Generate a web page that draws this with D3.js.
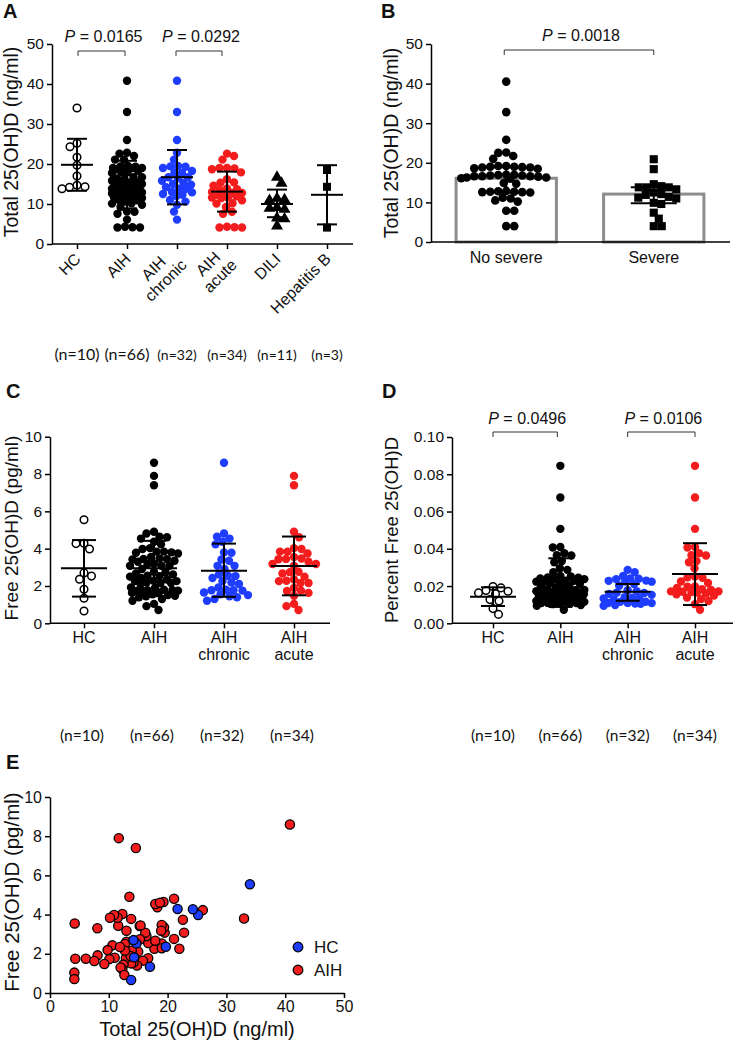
<!DOCTYPE html>
<html>
<head>
<meta charset="utf-8">
<script src="https://cdnjs.cloudflare.com/ajax/libs/d3/7.8.5/d3.min.js"></script>
<style>
  body { margin: 0; background: #fff; }
  svg text { font-family: "Liberation Sans", Arial, sans-serif; fill: #111; }
  .axis path, .axis line { stroke: #000; stroke-width: 1.5; }
  .axis text { font-size: 15.5px; fill: #111; }
  .nlab { font-family: Lato, "Open Sans", sans-serif !important; }
</style>
</head>
<body>
<svg width="735" height="1044"></svg>
<script>
// ---- data ----
// healthy controls: total (ng/ml) and free (pg/ml)
var hcTotal = [34.0, 25.2, 24.3, 21.7, 19.7, 17.0, 14.7, 14.3, 14.2, 13.8];
var hcFree = [5.55, 3.98, 4.27, 4.29, 2.36, 1.34, 2.53, 1.82, 2.70, 0.66];

// AIH patients (chronic then acute)
var aihTotal = [40.8, 33.0, 26.0, 22.8, 21.1, 19.5, 19.4, 19.3, 19.0, 18.25, 17.9, 17.75, 16.7, 16.7, 16.4, 15.8,
  15.25, 15.0, 14.8, 14.2, 13.8, 13.8, 13.0, 12.9, 12.5, 12.3, 12.0, 11.0, 10.6, 9.8, 8.1, 6.1,
  22.6, 22.0, 21.1, 19.0, 19.0, 18.9, 18.7, 17.9, 16.2, 15.4, 15.3, 14.6, 13.9, 13.7, 13.5, 13.0, 12.75,
  12.75, 12.65, 12.3, 11.9, 11.7, 11.6, 11.5, 10.9, 10.2, 10.1, 9.24, 8.05, 7.54, 4.2, 4.3, 4.14, 4.14];
var aihFree = [8.6, 3.8, 4.23, 3.08, 4.81, 3.08, 3.35, 4.64, 2.53, 4.37, 4.54, 2.26, 2.55, 1.77, 2.91, 1.65,
  3.42, 2.11, 1.4, 1.55, 3.78, 1.51, 2.62, 1.77, 1.45, 1.21, 1.3, 1.80, 2.43, 2.19, 1.92, 1.75,
  3.74, 2.26, 2.76, 3.47, 2.28, 3.18, 4.61, 2.67, 3.08, 3.45, 2.74, 7.4, 2.16, 1.89, 4.91, 3.18, 2.50,
  2.16, 0.92, 4.03, 2.35, 7.9, 3.43, 3.84, 3.98, 3.84, 1.73, 1.48, 3.30, 1.63, 3.55, 1.75, 1.04, 0.71];
var aihType = d3.range(66).map(function (i) { return i < 32 ? "chronic" : "acute"; });

var diliTotal = [16.7, 15.2, 11.4, 11.1, 10.9, 9.1, 8.9, 8.7, 6.5, 6.3, 4.5];
var hepbTotal = [18.5, 14.3, 4.1];

var noSevere = [40.5, 32.8, 25.8, 22.6, 22.5, 21.7, 21.0, 19.2, 19.2, 19.0, 19.0, 18.9, 18.8, 18.8, 18.6, 18.5,
  17.0, 16.9, 16.8, 16.6, 16.6, 16.5, 16.3, 16.1, 16.0, 16.3, 16.6, 16.8, 17.0, 14.9, 14.7, 12.8, 12.7,
  12.6, 12.9, 12.6, 12.7, 12.5, 11.2, 10.5, 10.2, 11.0, 7.9, 7.9, 4.0, 4.0];
var severe = [20.9, 18.4, 14.6, 14.1, 13.8, 13.8, 13.8, 13.3, 12.5, 12.1, 11.9, 11.4, 11.2, 11.0, 9.9, 9.6,
  7.4, 5.9, 4.0, 4.0];

// summary lines (centre, lower, upper) as drawn
var midA = [19.8, 14.8, 16.7, 13.1, 10.0, 12.3];
var lowA = [13.3, 8.9, 9.9, 8.1, 6.7, 4.9];
var highA = [26.3, 20.8, 23.5, 18.1, 13.6, 19.7];
var barB = [16.1, 12.1];
var lowB = [12.5, 9.8];
var highB = [18.9, 13.8];
var midC = [2.95, 2.95, 2.82, 3.07];
var lowC = [1.43, 1.45, 1.42, 1.5];
var highC = [4.46, 4.42, 4.27, 4.65];
var midD = [0.0143, 0.0218, 0.017, 0.0265];
var lowD = [0.0093, 0.0088, 0.0121, 0.0098];
var highD = [0.0193, 0.0349, 0.0211, 0.043];

var catsA = ["HC", "AIH", "AIH\nchronic", "AIH\nacute", "DILI", "Hepatitis B"];
var catsB = ["No severe", "Severe"];
var catsCD = ["HC", "AIH", "AIH\nchronic", "AIH\nacute"];
var pA = ["0.0165", "0.0292"];
var pB = ["0.0018"];
var pD = ["0.0496", "0.0106"];
var ticksA = [0, 10, 20, 30, 40, 50];
var ticksC = [0, 2, 4, 6, 8, 10];
var ticksD = [0, 0.02, 0.04, 0.06, 0.08, 0.10];

var BLUE = "#1f3dff", RED = "#f31d1d";

var svg = d3.select("svg");

var chronicIdx = d3.range(66).filter(function (i) { return aihType[i] === "chronic"; });
var acuteIdx = d3.range(66).filter(function (i) { return aihType[i] === "acute"; });
var pick = function (arr, idx) { return idx.map(function (i) { return arr[i]; }); };
// percent free = free (pg/ml) / total (ng/ml) / 10
var pct = function (f, t) { return f.map(function (v, i) { return v / t[i] / 10; }); };
var aihPct = pct(aihFree, aihTotal);
var hcPct = pct(hcFree, hcTotal);

// beeswarm kept inside +-cap px, overlapping when it has to
function swarm(values, y, r, cap) {
  var pts = values.map(function (v) { return { v: v, y: y(v), dx: 0 }; })
    .sort(function (a, b) { return a.y - b.y; });
  var placed = [], dmin = 2 * r * 0.88;
  pts.forEach(function (p, n) {
    var s = n % 2 ? 1 : -1, best = 0, bestD = -1;
    for (var k = 0; ; k++) {
      var off = k === 0 ? 0 : (k % 2 ? s : -s) * Math.ceil(k / 2) * 0.5;
      if (Math.abs(off) > cap) break;
      var md = d3.min(placed, function (q) {
        var dx = q.dx - off, dy = q.y - p.y;
        return Math.sqrt(dx * dx + dy * dy);
      });
      if (md === undefined || md >= dmin) { best = off; break; }
      if (md > bestD + 1e-6) { bestD = md; best = off; }
    }
    p.dx = best;
    placed.push(p);
  });
  return pts;
}

function drawDots(g, values, cx, y, style, cap) {
  var r = style.r || 4.2;
  var pts = swarm(values, y, r, cap);
  if (style.shape === "circle") {
    g.append("g").selectAll("circle").data(pts).enter().append("circle")
      .attr("cx", function (d) { return cx + d.dx; })
      .attr("cy", function (d) { return d.y; })
      .attr("r", style.open ? r - 0.6 : r)
      .attr("fill", style.open ? "#fff" : style.color)
      .attr("stroke", style.open ? "#000" : "none")
      .attr("stroke-width", 1.5);
  } else {
    var sym = style.shape === "triangle" ? d3.symbolTriangle : d3.symbolSquare;
    g.append("g").selectAll("path").data(pts).enter().append("path")
      .attr("transform", function (d) { return "translate(" + (cx + d.dx) + "," + d.y + ")"; })
      .attr("d", d3.symbol().type(sym).size(style.size || 64))
      .attr("fill", style.color);
  }
}

function drawSummary(g, cx, y, mid, lo, hi, mw, cw) {
  var s = g.append("g").attr("stroke", "#000").attr("stroke-width", 2);
  if (mid !== null) s.append("line").attr("x1", cx - mw).attr("x2", cx + mw).attr("y1", y(mid)).attr("y2", y(mid));
  s.append("line").attr("x1", cx).attr("x2", cx).attr("y1", y(lo)).attr("y2", y(hi));
  s.append("line").attr("x1", cx - cw).attr("x2", cx + cw).attr("y1", y(lo)).attr("y2", y(lo));
  s.append("line").attr("x1", cx - cw).attr("x2", cx + cw).attr("y1", y(hi)).attr("y2", y(hi));
}

function yAxis(g, y, x, ticks, fmt) {
  g.append("g").attr("class", "axis").attr("transform", "translate(" + x + ",0)")
    .call(d3.axisLeft(y).tickValues(ticks).tickSize(5).tickSizeOuter(0).tickPadding(3).tickFormat(fmt));
}

function xAxisLine(g, x, y0, x0, x1) {
  g.append("g").attr("class", "axis").attr("transform", "translate(0," + y0 + ")")
    .call(d3.axisBottom(x).tickSize(5).tickSizeOuter(0).tickFormat(""))
    .select(".domain").remove();
  g.append("line").attr("x1", x0).attr("x2", x1).attr("y1", y0).attr("y2", y0)
    .attr("stroke", "#000").attr("stroke-width", 1.5);
}

function yTitle(g, x, yc, label, size) {
  g.append("text").attr("transform", "translate(" + x + "," + yc + ") rotate(-90)")
    .attr("text-anchor", "middle").style("font-size", size + "px").text(label);
}

function pLabel(g, x1, x2, yb, txt, ty) {
  g.append("path").attr("d", "M" + x1 + "," + (yb + 5) + "V" + yb + "H" + x2 + "V" + (yb + 5))
    .attr("fill", "none").attr("stroke", "#333").attr("stroke-width", 1);
  var t = g.append("text").attr("x", (x1 + x2) / 2 + 2).attr("y", ty).attr("text-anchor", "middle").style("font-size", "16px");
  t.append("tspan").style("font-style", "italic").text("P");
  t.append("tspan").text(" = " + txt);
}

function panelLetter(x, y, l) {
  svg.append("text").attr("x", x).attr("y", y).style("font-size", "20px").style("font-weight", "bold").text(l);
}

function nLabels(g, x, groups, y, sizes, dx) {
  groups.forEach(function (v, i) {
    g.append("text").attr("class", "nlab").attr("x", x(x.domain()[i]) + (dx || 0)).attr("y", y)
      .attr("text-anchor", "middle").style("font-size", sizes[i] + "px").text("(n=" + v.length + ")");
  });
}

function flatLabels(g, x, y0, cats) {
  cats.forEach(function (c) {
    var t = g.append("text").attr("text-anchor", "middle").style("font-size", "16px");
    c.split("\n").forEach(function (l, i) {
      t.append("tspan").attr("x", x(c)).attr("y", y0 + i * 17).text(l);
    });
  });
}

var open = { shape: "circle", open: true, r: 4.4 };
var black = { shape: "circle", color: "#000" };
var blue = { shape: "circle", color: BLUE };
var red = { shape: "circle", color: RED };

// ---------------- Panel A ----------------
var gA = svg.append("g");
var xA = d3.scalePoint().domain(catsA).range([77, 327]);
var yA = d3.scaleLinear().domain([0, 50]).range([244, 44]);
var groupsA = [hcTotal, aihTotal, pick(aihTotal, chronicIdx), pick(aihTotal, acuteIdx), diliTotal, hepbTotal];
var stylesA = [open, black, blue, red, { shape: "triangle", color: "#000", size: 62 }, { shape: "square", color: "#000", size: 64 }];
groupsA.forEach(function (v, i) {
  drawDots(gA, v, xA(catsA[i]), yA, stylesA[i], 15);
  drawSummary(gA, xA(catsA[i]), yA, midA[i], lowA[i], highA[i], 16, 10);
});
yAxis(gA, yA, 52, ticksA, d3.format("d"));
xAxisLine(gA, xA, 244, 52, 353);
catsA.forEach(function (c) {
  var lines = c.split("\n");
  var t = gA.append("text").attr("transform", "translate(" + (xA(c) + 3) + ",254) rotate(-45)")
    .attr("text-anchor", "middle").style("font-size", "16px");
  lines.forEach(function (l, i) {
    t.append("tspan").attr("x", 0).attr("y", (i - (lines.length - 1) / 2) * 17 + 5.5).text(l);
  });
  var w = t.node().getBBox().width;
  t.selectAll("tspan").attr("x", -w / 2 - 3);
});
yTitle(gA, 18, 142, "Total 25(OH)D (ng/ml)", 19.5);
pLabel(gA, xA(catsA[0]) + 1, xA(catsA[1]) - 2, 51, pA[0], 42);
pLabel(gA, xA(catsA[2]) - 1, xA(catsA[3]) - 5, 51, pA[1], 42);
nLabels(gA, xA, groupsA, 360, [16, 16, 14, 14, 14, 14], 0);
panelLetter(3, 18, "A");

// ---------------- Panel B ----------------
var gB = svg.append("g");
var xB = d3.scaleBand().domain(catsB).range([431, 729]).paddingInner(0.32).paddingOuter(0.17);
var yB = d3.scaleLinear().domain([0, 50]).range([242, 44]);
gB.selectAll("rect").data(barB).enter().append("rect")
  .attr("x", function (d, i) { return xB(catsB[i]); })
  .attr("width", xB.bandwidth())
  .attr("y", function (d) { return yB(d); })
  .attr("height", function (d) { return yB(0) - yB(d); })
  .attr("fill", "#fff").attr("stroke", "#8c8c8c").attr("stroke-width", 3);
var groupsB = [noSevere, severe];
var stylesB = [{ shape: "circle", color: "#000", r: 4.3 }, { shape: "square", color: "#000", size: 66, r: 4.3 }];
groupsB.forEach(function (v, i) {
  var cx = xB(catsB[i]) + xB.bandwidth() / 2;
  drawDots(gB, v, cx, yB, stylesB[i], 45);
  drawSummary(gB, cx, yB, null, lowB[i], highB[i], 0, 23);
});
yAxis(gB, yB, 431, ticksA, d3.format("d"));
gB.append("line").attr("x1", 431).attr("x2", 730).attr("y1", 242).attr("y2", 242).attr("stroke", "#000").attr("stroke-width", 1.5);
catsB.forEach(function (c) {
  gB.append("text").attr("x", xB(c) + xB.bandwidth() / 2).attr("y", 263).attr("text-anchor", "middle")
    .style("font-size", "16px").text(c);
});
yTitle(gB, 398, 143, "Total 25(OH)D (ng/ml)", 19.5);
pLabel(gB, xB(catsB[0]) + xB.bandwidth() / 2 - 2, xB(catsB[1]) + xB.bandwidth() / 2, 50, pB[0], 41);
panelLetter(381, 18, "B");

// ---------------- Panel C ----------------
var gC = svg.append("g");
var xC = d3.scalePoint().domain(catsCD).range([84, 294]);
var yC = d3.scaleLinear().domain([0, 10]).range([623.3, 436.7]);
var groupsC = [hcFree, aihFree, pick(aihFree, chronicIdx), pick(aihFree, acuteIdx)];
var stylesCD = [open, black, blue, red];
groupsC.forEach(function (v, i) {
  drawDots(gC, v, xC(catsCD[i]), yC, stylesCD[i], 24);
  drawSummary(gC, xC(catsCD[i]), yC, midC[i], lowC[i], highC[i], 23, 12);
});
yAxis(gC, yC, 50, ticksC, d3.format("d"));
xAxisLine(gC, xC, 623.3, 50, 330);
flatLabels(gC, xC, 643, catsCD);
yTitle(gC, 18, 528, "Free 25(OH)D (pg/ml)", 19);
nLabels(gC, xC, groupsC, 741, [15.5, 15.5, 15.5, 15.5], -2);
panelLetter(6, 398, "C");

// ---------------- Panel D ----------------
var gD = svg.append("g");
var xD = d3.scalePoint().domain(catsCD).range([493, 695]);
var yD = d3.scaleLinear().domain([0, 0.10]).range([623.3, 437]);
var groupsD = [hcPct, aihPct, pick(aihPct, chronicIdx), pick(aihPct, acuteIdx)];
groupsD.forEach(function (v, i) {
  drawDots(gD, v, xD(catsCD[i]), yD, stylesCD[i], 24);
  drawSummary(gD, xD(catsCD[i]), yD, midD[i], lowD[i], highD[i], 23, 12);
});
yAxis(gD, yD, 452, ticksD, d3.format(".2f"));
xAxisLine(gD, xD, 623.3, 452, 733);
flatLabels(gD, xD, 643, catsCD);
yTitle(gD, 398, 530, "Percent Free 25(OH)D", 18.5);
pLabel(gD, xD(catsCD[0]), xD(catsCD[1]) - 3, 432, pD[0], 424);
pLabel(gD, xD(catsCD[2]), xD(catsCD[3]) + 0, 432, pD[1], 424);
nLabels(gD, xD, groupsD, 741, [15.5, 15.5, 15.5, 15.5], 0);
panelLetter(382, 398, "D");

// ---------------- Panel E ----------------
var gE = svg.append("g");
var xE = d3.scaleLinear().domain([0, 50]).range([50, 344]);
var yE = d3.scaleLinear().domain([0, 10]).range([993, 797]);
gE.append("g").selectAll("circle").data(aihTotal).enter().append("circle")
  .attr("cx", function (d) { return xE(d); })
  .attr("cy", function (d, i) { return yE(aihFree[i]); })
  .attr("r", 4.6).attr("fill", RED).attr("stroke", "#000").attr("stroke-width", 1.3);
gE.append("g").selectAll("circle").data(hcTotal).enter().append("circle")
  .attr("cx", function (d) { return xE(d); })
  .attr("cy", function (d, i) { return yE(hcFree[i]); })
  .attr("r", 4.6).attr("fill", BLUE).attr("stroke", "#000").attr("stroke-width", 1.3);
gE.append("g").attr("class", "axis").attr("transform", "translate(50,0)")
  .call(d3.axisLeft(yE).tickValues(ticksC).tickSize(5).tickSizeOuter(0).tickPadding(3).tickFormat(d3.format("d")))
  .selectAll("text").style("font-size", "16px");
gE.append("g").attr("class", "axis").attr("transform", "translate(0,993)")
  .call(d3.axisBottom(xE).tickValues(ticksA).tickSize(5).tickSizeOuter(0).tickPadding(3).tickFormat(d3.format("d")))
  .selectAll("text").style("font-size", "16px");
yTitle(gE, 19, 892, "Free 25(OH)D (pg/ml)", 20.5);
gE.append("text").attr("x", 197).attr("y", 1036).attr("text-anchor", "middle").style("font-size", "20px")
  .text("Total 25(OH)D (ng/ml)");
var legendE = [{ label: "HC", color: BLUE }, { label: "AIH", color: RED }];
legendE.forEach(function (d, i) {
  gE.append("circle").attr("cx", 298).attr("cy", 947 + i * 23).attr("r", 4.8)
    .attr("fill", d.color).attr("stroke", "#000").attr("stroke-width", 1.3);
  gE.append("text").attr("x", 314).attr("y", 953 + i * 23).style("font-size", "17px").text(d.label);
});
panelLetter(6, 769, "E");
</script>
</body>
</html>
